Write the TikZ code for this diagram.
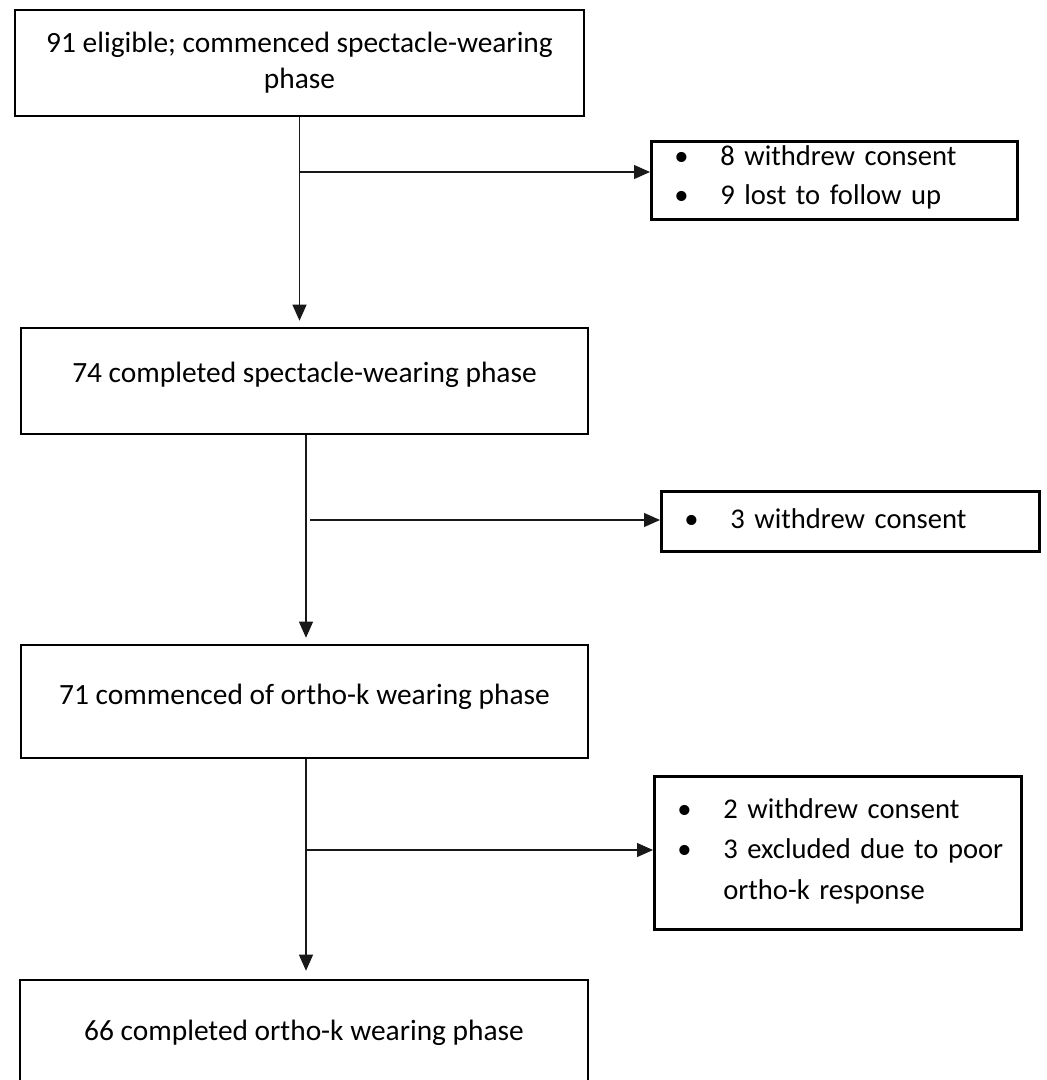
\documentclass[tikz,border=0pt]{standalone}
\usepackage{fontspec}
\setmainfont{Carlito}
\usetikzlibrary{
  arrows.meta,
  positioning,
  calc
}
\definecolor{boxcolor}{RGB}{0, 0, 0}
\definecolor{arrowcolor}{RGB}{25, 25, 25}
\definecolor{labelcolor}{RGB}{0, 0, 0}
\tikzset{
blocktext/.style={
  font=\fontsize{29.4}{36}\selectfont,
  text=labelcolor
},
phaseblock/.style={
  draw=boxcolor,
  line width=2.6pt,
  inner sep=0pt,
  align=center,
  blocktext
},
lossblock/.style={
  draw=boxcolor,
  line width=2.6pt,
  anchor=north west,
  inner xsep=23pt,
  inner ysep=0pt,
  align=left,
  blocktext,
  font=\fontsize{28.6}{36}\selectfont
},
arrow/.style={
  -{Triangle[length=16pt,width=14pt]},
  line width=1.2pt,
  draw=arrowcolor
}
}

\begin{document}
\begin{tikzpicture}[x=1pt, y=-1pt]
  \useasboundingbox (0,0) rectangle (1047,1080);
  \clip (0,0) rectangle (1047,1080);

  % Main phase boxes
  \node[phaseblock, minimum width=569pt, minimum height=106pt] (eligible) at (299.5,63)
    {91 eligible; commenced spectacle-wearing\\phase};
  \node[phaseblock, minimum width=567pt, minimum height=106pt, text depth=18pt] (specdone) at (304.5,381)
    {74 completed spectacle-wearing phase};
  \node[phaseblock, minimum width=567pt, minimum height=113pt, text depth=14pt] (orthostart) at (304.5,701.5)
    {71 commenced of ortho-k wearing phase};
  \node[phaseblock, minimum width=568pt, minimum height=120pt, text depth=20pt] (orthodone) at (304,1040)
    {66 completed ortho-k wearing phase};

  % Loss boxes
  \node[lossblock, minimum width=366pt, minimum height=78pt, text width=320pt] (lossA) at (650,140)
    {\renewcommand{\arraystretch}{1.06}%
     \raisebox{3pt}[\height][\depth]{%
     \begin{tabular}{@{}p{46pt}@{}l@{}}
       \textbullet & 8 withdrew consent\\
       \textbullet & 9 lost to follow up
     \end{tabular}}};
  \node[lossblock, minimum width=378pt, minimum height=60pt, text width=332pt] (lossB) at (660,490)
    {\begin{tabular}{@{}p{46pt}@{}l@{}}
       \textbullet & 3 withdrew consent
     \end{tabular}};
  \node[lossblock, minimum width=367pt, minimum height=153pt, text width=321pt] (lossC) at (653,775)
    {\renewcommand{\arraystretch}{1.12}%
     \begin{tabular}{@{}p{46pt}@{}l@{}}
       \textbullet & 2 withdrew consent\\
       \textbullet & 3 excluded due to poor\\
                   & ortho-k response\\[4pt]
     \end{tabular}};

  % Split points on the main line
  \coordinate (splitA) at (300,172);
  \coordinate (splitB) at (310,520);
  \coordinate (splitC) at (306,850);

  % Main flow
  \draw[arrow, shorten >=6pt] (eligible.south) -- (eligible.south |- specdone.north);
  \draw[arrow, shorten >=6pt] ([xshift=1.5pt]specdone.south) -- ([xshift=1.5pt]orthostart.north);
  \draw[arrow, shorten >=8pt] ([xshift=1.5pt]orthostart.south) -- ([xshift=2pt]orthodone.north);

  % Withdrawals
  \draw[arrow] (splitA) -- (splitA -| lossA.west);
  \draw[arrow] (splitB) -- (splitB -| lossB.west);
  \draw[arrow] (splitC) -- (splitC -| lossC.west);
\end{tikzpicture}
\end{document}
